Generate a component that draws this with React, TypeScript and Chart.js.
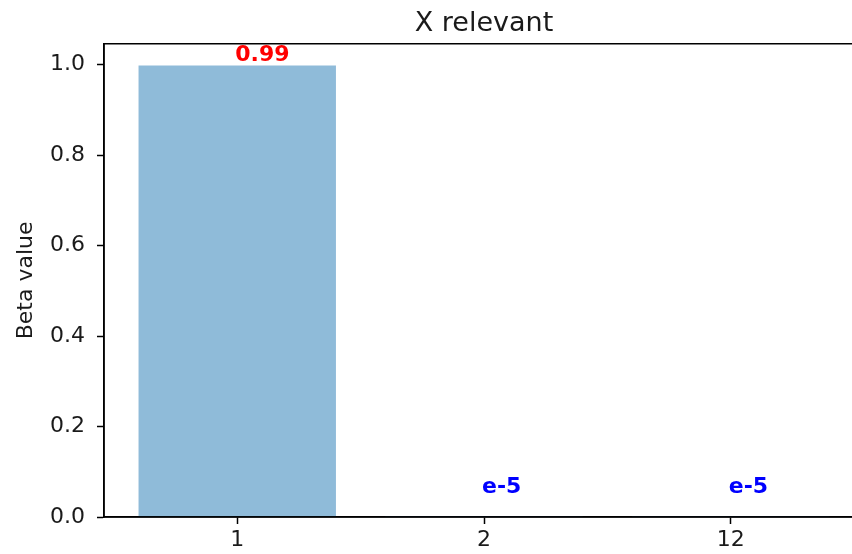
import React, { useEffect, useRef } from "react";
import { Chart, registerables } from "chart.js";

Chart.register(...registerables);

const categories = ["1", "2", "12"];
const betaValues = [0.998, 0.00001, 0.00001];
const annotationTexts = ["0.99", "e-5", "e-5"];
const annotationColors = ["#ff0000", "#0000ff", "#0000ff"];
const yTickValues = [0, 0.2, 0.4, 0.6, 0.8, 1.0];
const chartTitle = "X relevant";
const yAxisTitle = "Beta value";

const FONT = "'DejaVu Sans', sans-serif";
const TEXT = "#1a1a1a";

const decorPlugin = {
  id: "decor",
  afterDatasetsDraw(chart: any) {
    const { ctx, chartArea } = chart;
    const xs = chart.scales.x;
    const ys = chart.scales.y;
    ctx.save();
    // spines (all four, drawn over the bars like matplotlib)
    ctx.strokeStyle = "#000";
    ctx.lineWidth = 1.5;
    ctx.beginPath();
    ctx.moveTo(chartArea.left, chartArea.bottom);
    ctx.lineTo(chartArea.left, chartArea.top);
    ctx.lineTo(chartArea.right, chartArea.top);
    ctx.lineTo(chartArea.right, chartArea.bottom);
    ctx.lineTo(chartArea.left, chartArea.bottom);
    ctx.stroke();
    // annotations
    ctx.font = `bold 22px ${FONT}`;
    ctx.textAlign = "left";
    ctx.textBaseline = "alphabetic";
    betaValues.forEach((v, i) => {
      const yv = Math.max(v, 0.043) + 0.01;
      ctx.fillStyle = annotationColors[i];
      ctx.fillText(annotationTexts[i], xs.getPixelForValue(i) - 2, ys.getPixelForValue(yv));
    });
    // title
    ctx.fillStyle = TEXT;
    ctx.font = `27px ${FONT}`;
    ctx.textAlign = "center";
    ctx.fillText(chartTitle, (chartArea.left + chartArea.right) / 2, 31);
    // y axis title
    ctx.translate(26, (chartArea.top + chartArea.bottom) / 2);
    ctx.rotate(-Math.PI / 2);
    ctx.font = `22px ${FONT}`;
    ctx.textBaseline = "middle";
    ctx.fillText(yAxisTitle, 0, 0);
    ctx.restore();
  },
};

export default function App() {
  const ref = useRef<HTMLCanvasElement | null>(null);
  useEffect(() => {
    if (!ref.current) return;
    const chart = new Chart(ref.current, {
      type: "bar",
      data: {
        datasets: [
          {
            data: betaValues.map((v, i) => ({ x: i, y: v })),
            backgroundColor: "rgba(31,119,180,0.5)",
            barPercentage: 0.8,
            categoryPercentage: 1.0,
          },
        ],
      },
      options: {
        animation: false,
        responsive: false,
        layout: { padding: { left: 0, top: 43.8, right: 16, bottom: 0 } },
        plugins: { legend: { display: false }, title: { display: false }, tooltip: { enabled: false } },
        scales: {
          x: {
            type: "linear",
            min: -0.54,
            max: 2.54,
            offset: false,
            afterBuildTicks: (s: any) => {
              s.ticks = categories.map((_, i) => ({ value: i }));
            },
            afterFit: (s: any) => {
              s.height = 37;
            },
            grid: { offset: false, drawOnChartArea: false, drawTicks: true, tickLength: 7, tickColor: "#000", tickWidth: 1.5 },
            border: { display: true, color: "#000", width: 1.5 },
            ticks: {
              autoSkip: false,
              maxRotation: 0,
              padding: 3,
              color: TEXT,
              font: { family: FONT, size: 22 },
              callback: (_v: any, idx: number) => categories[idx],
            },
          },
          y: {
            type: "linear",
            min: 0,
            max: 1.046,
            afterBuildTicks: (s: any) => {
              s.ticks = yTickValues.map((v) => ({ value: v }));
            },
            afterFit: (s: any) => {
              s.width = 104;
            },
            grid: { drawOnChartArea: false, drawTicks: true, tickLength: 7, tickColor: "#000", tickWidth: 1.5 },
            border: { display: true, color: "#000", width: 1.5 },
            ticks: {
              padding: 12,
              color: TEXT,
              font: { family: FONT, size: 22 },
              callback: (v: any) => Number(v).toFixed(1),
            },
          },
        },
      },
      plugins: [decorPlugin],
    } as any);
    return () => chart.destroy();
  }, []);
  return (
    <div style={{ position: "fixed", left: 0, top: 0, width: 852, height: 554, overflow: "hidden", background: "#fff" }}>
      <canvas ref={ref} width={880} height={554} style={{ display: "block" }} />
    </div>
  );
}
